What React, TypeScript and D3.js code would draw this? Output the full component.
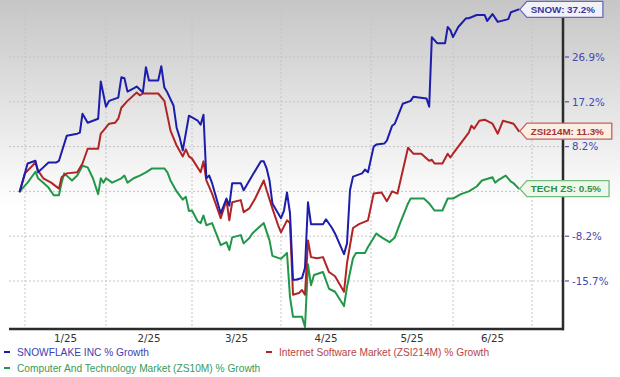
import React from "react";
import * as d3 from "d3";

// ---------- DATA ----------
const monthStarts = ["2025-01-01", "2025-02-01", "2025-03-01", "2025-04-01", "2025-05-01", "2025-06-01", "2025-07-01"];
const monthLabels = ["1/25", "2/25", "3/25", "4/25", "5/25", "6/25"];
const yTicks = [-15.7, -8.2, 0, 8.2, 17.2, 26.9];
const yTickLabels = ["-15.7%", "-8.2%", "", "8.2%", "17.2%", "26.9%"];

const legendNames = [
  "SNOWFLAKE INC % Growth",
  "Internet Software Market (ZSI214M) % Growth",
  "Computer And Technology Market (ZS10M) % Growth",
];
const calloutNames = ["SNOW", "ZSI214M", "TECH ZS"];

const snowData: [string, number][] = [
  ["2024-12-30", 0], ["2025-01-02", 5.1], ["2025-01-05", 5.6], ["2025-01-06", 3.5], ["2025-01-08", 4.4],
  ["2025-01-10", 5.3], ["2025-01-13", 5.3], ["2025-01-14", 5.6], ["2025-01-17", 10.4], ["2025-01-21", 10.8],
  ["2025-01-22", 11.0], ["2025-01-23", 14.8], ["2025-01-25", 13.0], ["2025-01-29", 13.8], ["2025-01-30", 21.6],
  ["2025-02-01", 16.2], ["2025-02-02", 17.4], ["2025-02-05", 18.1], ["2025-02-06", 22.5], ["2025-02-07", 22.3],
  ["2025-02-08", 19.4], ["2025-02-10", 20.1], ["2025-02-11", 20.5], ["2025-02-13", 19.2], ["2025-02-14", 24.7],
  ["2025-02-15", 21.8], ["2025-02-18", 21.8], ["2025-02-19", 24.9], ["2025-02-20", 20.3], ["2025-02-21", 19.2],
  ["2025-02-23", 16.4], ["2025-02-24", 12.0], ["2025-02-25", 10.0], ["2025-02-26", 7.5], ["2025-02-28", 14.4],
  ["2025-03-03", 13.4], ["2025-03-04", 12.6], ["2025-03-05", 14.6], ["2025-03-06", 2.4], ["2025-03-07", 2.9],
  ["2025-03-08", 1.5], ["2025-03-11", -4.0], ["2025-03-13", -1.3], ["2025-03-14", -2.6], ["2025-03-15", 1.5],
  ["2025-03-18", 1.5], ["2025-03-19", 0.2], ["2025-03-21", 2.0], ["2025-03-22", 2.9], ["2025-03-25", 5.5],
  ["2025-03-26", 5.5], ["2025-03-27", 4.2], ["2025-03-28", 2.0], ["2025-03-29", -2.2], ["2025-04-01", -4.9],
  ["2025-04-02", -3.5], ["2025-04-03", -0.2], ["2025-04-04", -4.0], ["2025-04-05", -15.5], ["2025-04-06", -15.5],
  ["2025-04-08", -15.2], ["2025-04-09", -13.5], ["2025-04-10", -2.0], ["2025-04-11", -6.0], ["2025-04-15", -6.0],
  ["2025-04-16", -5.1], ["2025-04-18", -6.7], ["2025-04-19", -7.7], ["2025-04-22", -11.2], ["2025-04-23", -9.4],
  ["2025-04-24", 0.2], ["2025-04-25", 2.7], ["2025-04-28", 3.3], ["2025-04-29", 4.0], ["2025-04-30", 3.5],
  ["2025-05-02", 8.2], ["2025-05-03", 8.6], ["2025-05-06", 8.8], ["2025-05-07", 9.4], ["2025-05-09", 12.4],
  ["2025-05-10", 12.8], ["2025-05-13", 16.8], ["2025-05-16", 17.4], ["2025-05-17", 18.3], ["2025-05-22", 17.9],
  ["2025-05-23", 16.2], ["2025-05-24", 31.2], ["2025-05-26", 29.9], ["2025-05-29", 29.9], ["2025-05-30", 33.4],
  ["2025-05-31", 32.7], ["2025-06-01", 31.2], ["2025-06-03", 33.4], ["2025-06-06", 35.3], ["2025-06-07", 35.3],
  ["2025-06-10", 36.0], ["2025-06-13", 36.0], ["2025-06-14", 34.7], ["2025-06-16", 36.2], ["2025-06-18", 34.5],
  ["2025-06-22", 35.1], ["2025-06-23", 36.6], ["2025-06-26", 37.2],
];

const zsiData: [string, number][] = [
  ["2024-12-30", 0], ["2025-01-01", 3.3], ["2025-01-05", 5.3], ["2025-01-06", 3.8], ["2025-01-08", 2.4],
  ["2025-01-11", 1.6], ["2025-01-14", 0.5], ["2025-01-15", 2.6], ["2025-01-17", 3.3], ["2025-01-21", 3.5],
  ["2025-01-23", 5.1], ["2025-01-25", 7.8], ["2025-01-29", 7.8], ["2025-01-30", 10.8], ["2025-01-31", 11.4],
  ["2025-02-02", 12.8], ["2025-02-04", 13.0], ["2025-02-05", 13.8], ["2025-02-06", 16.0], ["2025-02-08", 17.4],
  ["2025-02-11", 19.2], ["2025-02-12", 18.6], ["2025-02-13", 19.0], ["2025-02-18", 19.0], ["2025-02-20", 17.4],
  ["2025-02-22", 11.4], ["2025-02-24", 8.4], ["2025-02-26", 6.4], ["2025-02-27", 7.7], ["2025-02-28", 6.4],
  ["2025-03-01", 6.0], ["2025-03-04", 3.5], ["2025-03-05", 5.5], ["2025-03-06", 2.0], ["2025-03-08", -0.4],
  ["2025-03-11", -4.9], ["2025-03-13", -1.6], ["2025-03-14", -5.3], ["2025-03-15", -2.0], ["2025-03-18", -1.6],
  ["2025-03-19", -3.8], ["2025-03-21", -3.1], ["2025-03-23", -1.3], ["2025-03-26", 2.0], ["2025-03-27", 0.2],
  ["2025-03-29", -3.1], ["2025-03-31", -6.2], ["2025-04-01", -7.5], ["2025-04-03", -5.3], ["2025-04-04", -5.8],
  ["2025-04-05", -18.0], ["2025-04-07", -17.7], ["2025-04-08", -17.2], ["2025-04-09", -18.0], ["2025-04-10", -8.9],
  ["2025-04-11", -11.7], ["2025-04-13", -11.9], ["2025-04-15", -11.7], ["2025-04-17", -14.2], ["2025-04-19", -14.9],
  ["2025-04-22", -17.5], ["2025-04-23", -12.7], ["2025-04-25", -6.7], ["2025-04-27", -6.0], ["2025-04-30", -5.3],
  ["2025-05-02", -0.4], ["2025-05-05", -0.2], ["2025-05-07", -1.8], ["2025-05-09", 0.0], ["2025-05-11", -0.4],
  ["2025-05-15", 8.0], ["2025-05-17", 6.9], ["2025-05-20", 6.9], ["2025-05-23", 5.6], ["2025-05-24", 5.8],
  ["2025-05-25", 5.1], ["2025-05-28", 5.1], ["2025-05-30", 6.9], ["2025-05-31", 6.2], ["2025-06-01", 6.9],
  ["2025-06-07", 11.0], ["2025-06-08", 12.4], ["2025-06-09", 11.8], ["2025-06-11", 13.4], ["2025-06-13", 13.6],
  ["2025-06-16", 12.8], ["2025-06-18", 10.8], ["2025-06-20", 13.4], ["2025-06-24", 12.8], ["2025-06-26", 11.3],
];

const techData: [string, number][] = [
  ["2024-12-30", 0], ["2025-01-02", 1.6], ["2025-01-05", 3.6], ["2025-01-06", 2.4], ["2025-01-08", 1.6],
  ["2025-01-10", 0.7], ["2025-01-12", -0.7], ["2025-01-14", -0.7], ["2025-01-15", 1.6], ["2025-01-16", 3.3],
  ["2025-01-19", 2.0], ["2025-01-21", 2.9], ["2025-01-23", 4.7], ["2025-01-25", 4.4], ["2025-01-27", 2.4],
  ["2025-01-29", -0.5], ["2025-01-30", 2.4], ["2025-01-31", 1.6], ["2025-02-01", 2.4], ["2025-02-03", 1.6],
  ["2025-02-06", 2.4], ["2025-02-07", 2.9], ["2025-02-08", 1.6], ["2025-02-10", 2.4], ["2025-02-12", 2.9],
  ["2025-02-14", 3.5], ["2025-02-16", 4.2], ["2025-02-20", 4.2], ["2025-02-21", 3.5], ["2025-02-22", 2.0],
  ["2025-02-24", 0.0], ["2025-02-26", -1.5], ["2025-02-27", -1.0], ["2025-02-28", -3.6], ["2025-03-01", -3.5],
  ["2025-03-03", -5.5], ["2025-03-04", -5.8], ["2025-03-05", -4.4], ["2025-03-06", -6.2], ["2025-03-08", -5.8],
  ["2025-03-11", -9.7], ["2025-03-13", -9.2], ["2025-03-14", -10.5], ["2025-03-15", -8.4], ["2025-03-18", -8.0],
  ["2025-03-19", -9.4], ["2025-03-21", -8.5], ["2025-03-22", -7.7], ["2025-03-26", -5.8], ["2025-03-28", -8.9],
  ["2025-03-29", -11.5], ["2025-04-01", -12.0], ["2025-04-03", -11.0], ["2025-04-04", -18.4], ["2025-04-05", -21.7],
  ["2025-04-08", -21.7], ["2025-04-09", -23.4], ["2025-04-10", -12.9], ["2025-04-11", -16.4], ["2025-04-12", -14.7],
  ["2025-04-15", -14.2], ["2025-04-17", -17.0], ["2025-04-19", -17.5], ["2025-04-22", -19.9], ["2025-04-23", -16.7],
  ["2025-04-25", -11.9], ["2025-04-26", -11.0], ["2025-04-29", -11.0], ["2025-04-30", -10.0], ["2025-05-03", -7.7],
  ["2025-05-05", -8.4], ["2025-05-08", -9.2], ["2025-05-10", -8.4], ["2025-05-12", -5.8], ["2025-05-15", -2.2],
  ["2025-05-16", -1.3], ["2025-05-21", -1.3], ["2025-05-23", -2.2], ["2025-05-25", -3.5], ["2025-05-28", -3.5],
  ["2025-05-30", -1.3], ["2025-06-01", -1.3], ["2025-06-04", -0.5], ["2025-06-07", 0.0], ["2025-06-10", 0.9],
  ["2025-06-12", 2.0], ["2025-06-16", 2.6], ["2025-06-17", 1.6], ["2025-06-18", 2.0], ["2025-06-21", 2.9],
  ["2025-06-23", 1.8], ["2025-06-24", 1.5], ["2025-06-26", 0.5],
];

// ---------- LAYOUT / STYLE ----------
const W = 620;
const H = 377;
const plotLeft = 9;
const plotRight = 563;
const plotBottom = 329;
const monthPx = [25, 106, 192, 281, 371, 453, 532];
const gridBottomPx = 281;
const gridStep = 44.8;

const parse = d3.timeParse("%Y-%m-%d");

const seriesStyles = [
  { key: "tech", data: techData, line: "#21974a", text: "#2f8f4a", stroke: "#73bb7f", fill: "#eef8e9", legend: "#3a9a58" },
  { key: "zsi", data: zsiData, line: "#b22424", text: "#a83232", stroke: "#c46060", fill: "#fbefe4", legend: "#b84444" },
  { key: "snow", data: snowData, line: "#1d1dab", text: "#3535a0", stroke: "#6a6ab8", fill: "#f1f1f8", legend: "#4040b0" },
];

function measure(text: string, font: string): number {
  const c = document.createElement("canvas").getContext("2d");
  if (!c) return text.length * 6;
  c.font = font;
  return c.measureText(text).width;
}

export default function App() {
  const x = d3.scaleTime<number, number>().domain(monthStarts.map((d) => parse(d) as Date)).range(monthPx);
  const y = d3
    .scaleLinear()
    .domain(yTicks)
    .range(yTicks.map((_, i) => gridBottomPx - i * gridStep));

  const line = d3
    .line<[string, number]>()
    .x((d) => x(parse(d[0]) as Date))
    .y((d) => y(d[1]))
    .curve(d3.curveLinear);

  const calloutFont = "bold 9.8px 'Liberation Sans', Arial, sans-serif";
  const calloutIdx: Record<string, number> = { snow: 0, zsi: 1, tech: 2 };

  const legendItems = [
    { text: legendNames[0], color: seriesStyles[2].legend, dash: seriesStyles[2].line, x: 4, y: 352 },
    { text: legendNames[1], color: seriesStyles[1].legend, dash: seriesStyles[1].line, x: 266, y: 352 },
    { text: legendNames[2], color: seriesStyles[0].legend, dash: seriesStyles[0].line, x: 4, y: 368 },
  ];

  return (
    <svg
      width={W}
      height={H}
      style={{ position: "absolute", left: 0, top: 0, display: "block" }}
      xmlns="http://www.w3.org/2000/svg"
    >
      <defs>
        <linearGradient id="bg" x1="0" y1="0" x2="0" y2="1">
          <stop offset="0" stopColor="#c6c6c6" />
          <stop offset="0.55" stopColor="#ffffff" />
          <stop offset="1" stopColor="#ffffff" />
        </linearGradient>
      </defs>
      <rect x={0} y={0} width={W} height={H} fill="url(#bg)" />

      {/* vertical grid */}
      {monthStarts.map((m) => (
        <line
          key={m}
          x1={x(parse(m) as Date)}
          x2={x(parse(m) as Date)}
          y1={0}
          y2={plotBottom}
          stroke="#c4c4c4"
          strokeDasharray="2,2"
          strokeWidth={1}
        />
      ))}
      {/* horizontal grid */}
      {yTicks.map((t) => (
        <line
          key={t}
          x1={plotLeft}
          x2={plotRight}
          y1={y(t)}
          y2={y(t)}
          stroke="#c4c4c4"
          strokeDasharray="2,2"
          strokeWidth={1}
        />
      ))}

      {/* series */}
      {seriesStyles.map((s) => (
        <path
          key={s.key}
          d={line(s.data) || ""}
          fill="none"
          stroke={s.line}
          strokeWidth={2}
          strokeLinejoin="round"
          strokeLinecap="round"
        />
      ))}

      {/* axes */}
      <line x1={plotLeft} x2={plotRight + 1} y1={plotBottom} y2={plotBottom} stroke="#2b2b2b" strokeWidth={2.5} />
      <line x1={plotRight} x2={plotRight} y1={4} y2={plotBottom + 1.2} stroke="#2b2b2b" strokeWidth={2.5} />

      {/* y ticks */}
      {yTicks.map((t, i) =>
        yTickLabels[i] ? (
          <g key={"yt" + t}>
            <line x1={plotRight + 2} x2={plotRight + 6} y1={y(t)} y2={y(t)} stroke="#5050b0" strokeWidth={1.2} />
            <text
              x={plotRight + 9}
              y={y(t) + 3.8}
              fontFamily="'DejaVu Sans', Verdana, sans-serif"
              fontSize={10.3}
              fill="#4646b2"
            >
              {yTickLabels[i]}
            </text>
          </g>
        ) : null
      )}

      {/* x labels */}
      {monthLabels.map((lab, i) => {
        const cx = (x(parse(monthStarts[i]) as Date) + x(parse(monthStarts[i + 1]) as Date)) / 2;
        return (
          <text
            key={lab}
            x={cx}
            y={342}
            textAnchor="middle"
            fontFamily="'DejaVu Sans', Verdana, sans-serif"
            fontSize={10.3}
            fill="#333333"
          >
            {lab}
          </text>
        );
      })}

      {/* callouts */}
      {seriesStyles.map((s) => {
        const last = s.data[s.data.length - 1];
        const x0 = x(parse(last[0]) as Date) + 1;
        const yc = y(last[1]);
        const label = `${calloutNames[calloutIdx[s.key]]}: ${last[1].toFixed(1)}%`;
        const tw = measure(label, calloutFont);
        const x1 = x0 + 11 + tw + 8;
        const hh = 8;
        const p = `M${x0},${yc} L${x0 + 7},${yc - hh} L${x1},${yc - hh} L${x1},${yc + hh} L${x0 + 7},${yc + hh} Z`;
        return (
          <g key={"c" + s.key}>
            <path d={p} fill={s.fill} stroke={s.stroke} strokeWidth={1.3} strokeLinejoin="round" />
            <text
              x={x0 + 11}
              y={yc + 3.6}
              fontFamily="'Liberation Sans', Arial, sans-serif"
              fontWeight="bold"
              fontSize={9.8}
              fill={s.text}
            >
              {label}
            </text>
          </g>
        );
      })}

      {/* legend */}
      {legendItems.map((it) => (
        <g key={it.text}>
          <line x1={it.x} x2={it.x + 6} y1={it.y} y2={it.y} stroke={it.dash} strokeWidth={2} />
          <text
            x={it.x + 13}
            y={it.y + 3.8}
            fontFamily="'Liberation Sans', Arial, sans-serif"
            fontSize={10.2}
            fill={it.color}
          >
            {it.text}
          </text>
        </g>
      ))}
    </svg>
  );
}
